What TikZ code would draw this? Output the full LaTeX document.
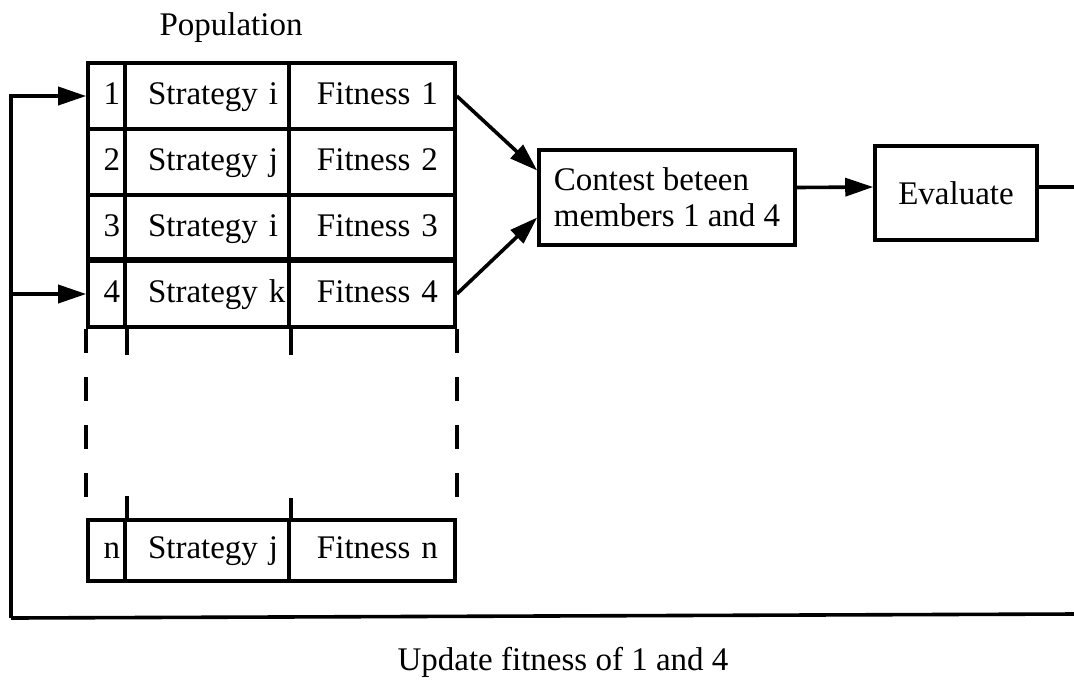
\documentclass[tikz,border=0pt]{standalone}
\usepackage{fontspec}
\setmainfont{Liberation Serif}
\usetikzlibrary{arrows.meta}

\tikzset{
  cell/.style = {draw, line width=1.8pt, minimum height=33pt, inner ysep=0pt, text height=11.5pt, text depth=3.5pt},
  num/.style = {cell, inner xsep=2.5pt, text width=13.5pt, align=right},
  strat/.style = {cell, inner xsep=11.5pt, text width=59pt, align=left},
  fit/.style = {cell, inner xsep=8.5pt, text width=66pt, align=right},
  box/.style = {draw, line width=1.8pt, inner sep=0pt},
  wire/.style = {line width=1.8pt},
  flow/.style = {line width=1.8pt, -{Triangle[length=14pt, width=9pt]}},
  gap/.style = {line width=1.8pt, dash pattern=on 12pt off 12pt},
}

\begin{document}
\begin{tikzpicture}[x=0.5pt, y=-0.5pt, font=\fontsize{16.5}{18}\selectfont]
  \useasboundingbox (0,0) rectangle (1074,681);

  \node (pop) at (231,28) {Population};

  % rows of the population
  \node[num] (num1) at (106.5,96) {1};
  \node[strat] (strat1) at (207,96) {Strategy~i};
  \node[fit] (fit1) at (372,96) {Fitness 1};
  \node[num] (num2) at (106.5,162) {2};
  \node[strat] (strat2) at (207,162) {Strategy~j};
  \node[fit] (fit2) at (372,162) {Fitness 2};
  \node[num] (num3) at (106.5,228) {3};
  \node[strat] (strat3) at (207,228) {Strategy~i};
  \node[fit] (fit3) at (372,228) {Fitness 3};
  \node[num] (num4) at (106.5,294) {4};
  \node[strat] (strat4) at (207,294) {Strategy~k};
  \node[fit] (fit4) at (372,294) {Fitness 4};
  \draw[line width=2.4pt] (num4.north west) -- (fit4.north east);

  \node[num, minimum height=30.5pt] (numn) at (106.5,550.5) {n};
  \node[strat, minimum height=30.5pt] (stratn) at (207,550.5) {Strategy~j};
  \node[fit, minimum height=30.5pt] (fitn) at (372,550.5) {Fitness n};

  % broken part of the table
  \draw[gap] (num4.south west) -- (numn.north west);
  \draw[gap] (fit4.south east) -- (fitn.north east);
  \draw[wire] (num4.south east) -- ++(0,26);
  \draw[wire] (strat4.south east) -- ++(0,26);
  \draw[wire] (numn.north east) -- ++(0,-22);
  \draw[wire] (stratn.north east) -- ++(0,-20);

  \node[box, minimum width=128pt, minimum height=47.5pt, align=left] (contest) at (667,197.5) {Contest beteen\\members 1 and 4};
  \node[box, minimum width=81pt, minimum height=47pt] (eval) at (956,193) {Evaluate};

  \draw[flow] (fit1.east) -- ([yshift=13.5pt]contest.west);
  \draw[flow] (fit4.east) -- ([yshift=-10pt]contest.west);
  \draw[flow] ([yshift=5pt]contest.east) -- ([yshift=3pt]eval.west);

  % feedback loop
  \coordinate (rt) at (1074,187);
  \coordinate (rb) at (1074,614);
  \coordinate (lb) at (11,618);
  \draw[wire] ([yshift=3pt]eval.east) -- (rt);
  \draw[wire] (rb) -- (lb);
  \draw[flow] (lb) |- (num1.west);
  \draw[flow] (lb) |- (num4.west);

  \node (upd) at (563,662) {Update fitness of 1 and 4};
\end{tikzpicture}
\end{document}
